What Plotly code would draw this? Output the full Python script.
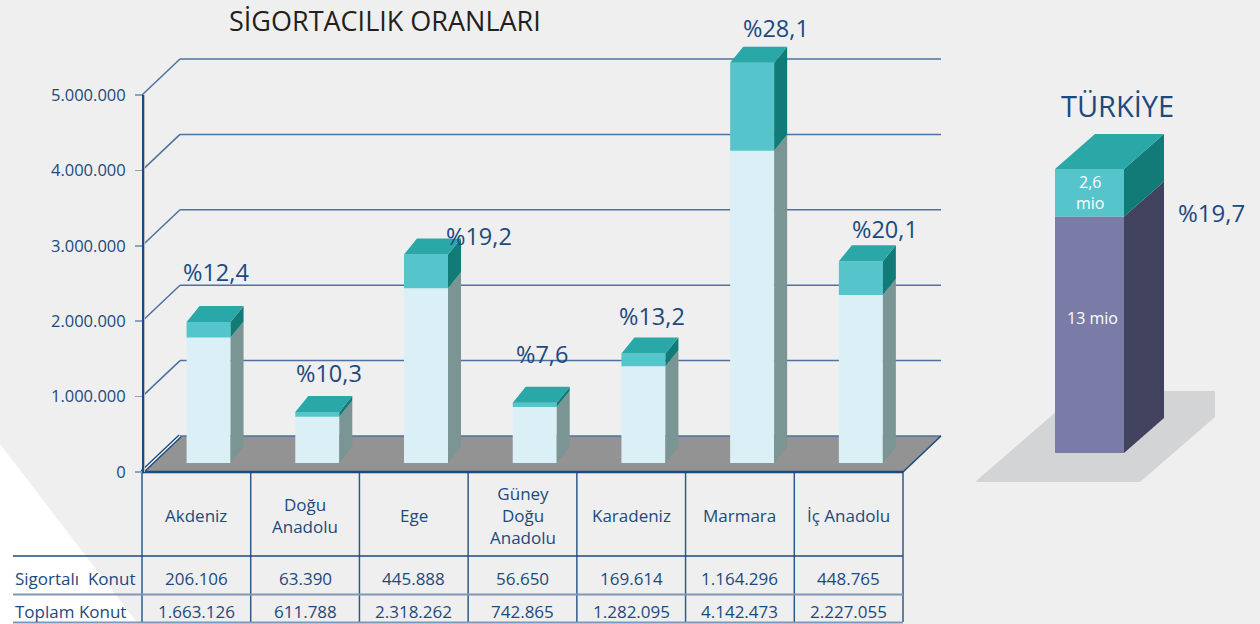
import plotly.graph_objects as go

# ---------------- data ----------------
regions = ["Akdeniz", "Doğu<br>Anadolu", "Ege", "Güney<br>Doğu<br>Anadolu",
           "Karadeniz", "Marmara", "İç Anadolu"]
sigortali_konut = [206106, 63390, 445888, 56650, 169614, 1164296, 448765]
toplam_konut = [1663126, 611788, 2318262, 742865, 1282095, 4142473, 2227055]
oran_labels = ["%12,4", "%10,3", "%19,2", "%7,6", "%13,2", "%28,1", "%20,1"]
row_labels = ["Sigortalı  Konut", "Toplam Konut"]
y_tick_values = [0, 1000000, 2000000, 3000000, 4000000, 5000000]
turkiye_toplam = 13000000
turkiye_sigortali = 2600000
turkiye_labels = ["13 mio", "2,6<br>mio"]
turkiye_oran = "%19,7"
title_text = "SİGORTACILIK ORANLARI"
turkiye_title = "TÜRKİYE"

# ---------------- style / geometry ----------------
W, H = 1260, 624
FONT = "Open Sans"
BG = "#efefef"
BLUE = "#1c4a7e"
GRID = "#4d72a0"
TICKC = "#8aa2c2"
FLOOR = "#939393"
FRONT_LIGHT = "#daf0f6"
SIDE_LIGHT = "#7b9594"
TEAL_FRONT = "#55c4cb"
TEAL_TOP = "#2aa7a7"
TEAL_SIDE = "#127a77"
PURPLE = "#7a7ba6"
PURPLE_SIDE = "#41425e"
SHADOW = "#d3d4d6"
TABLE_LINE = "#2f5b8c"
TABLE_LINE2 = "#7d97b8"

N = len(regions)
FX0, FX1 = 142, 903          # front plane left/right (px)
FY0, FY5 = 472, 95           # front plane pixel of 0 and of last tick
KX = (FX1 - FX0) / N
KY = (FY0 - FY5) / y_tick_values[-1]


def ux(px):
    return (px - FX0) / KX - 0.5


def vy(py):
    return (FY0 - py) / KY


def pp(py):
    return 1 - py / H


DX, DY = 38 / KX, 36 / KY    # floor depth
BT = 0.25                    # bars depth fraction on the floor
BC = 0.025                   # bar centre offset within column
BW = 44 / KX                 # bar front width
SDX, SDY = 13 / KX, 16 / KY  # bar side depth

# percentage label offsets (px) relative to bar front top centre
LBL_DX = [7, 12, 53, 7, 9, 24, 24]
LBL_DY = [50, 39, 19, 49, 38, 35, 32]

fig = go.Figure()
shapes = []


def poly(xl, yl, color, xa="x", ya="y"):
    fig.add_trace(go.Scatter(x=xl, y=yl, fill="toself", fillcolor=color, mode="lines",
                             line=dict(width=0), hoverinfo="skip", showlegend=False,
                             xaxis=xa, yaxis=ya))


def seg(x0, y0, x1, y1, color, width, xref="x", yref="y"):
    shapes.append(dict(type="line", xref=xref, yref=yref, x0=x0, y0=y0, x1=x1, y1=y1,
                       layer="below", line=dict(color=color, width=width)))


xl0, xl1 = -0.5, N - 0.5

# white wedge background
shapes.append(dict(type="path", xref="paper", yref="paper", layer="below",
                   path=f"M 0,{pp(444)} L {138 / W},0 L 0,0 Z",
                   fillcolor="#ffffff", line=dict(width=0)))

# floor
shapes.append(dict(type="path", xref="x", yref="y", layer="below",
                   path=f"M {xl0},0 L {xl1},0 L {xl1 + DX},{DY} L {xl0 + DX},{DY} Z",
                   fillcolor=FLOOR, line=dict(width=0)))

# back wall grid + left wall diagonals
for v in y_tick_values:
    seg(xl0 + DX, v + DY, xl1 + DX, v + DY, GRID, 1.5)
    if v > 0:
        seg(xl0, v, xl0 + DX, v + DY, GRID, 1.5)
# left floor edge: double line
seg(xl0, 0, xl0 + DX, DY, BLUE, 4)
seg(xl0, 0, xl0 + DX, DY, "#ffffff", 1.2)
# right floor edge, front floor edge
seg(xl1, 0, xl1 + DX, DY, BLUE, 1.5)
seg(xl0, 0, xl1, 0, BLUE, 2.5)
# light wall edge
seg(ux(144.5), 0, ux(144.5), y_tick_values[-1], "#b9b9b9", 1)

# bars
xc = [i + BC + BT * DX for i in range(N)]
b0 = BT * DY
tops_light = [b0 + t for t in toplam_konut]
tops = [b0 + t + s for t, s in zip(toplam_konut, sigortali_konut)]
fig.add_trace(go.Bar(x=xc, y=toplam_konut, base=b0, width=BW,
                     marker=dict(color=FRONT_LIGHT, line=dict(width=0)),
                     hoverinfo="skip", showlegend=False))
fig.add_trace(go.Bar(x=xc, y=sigortali_konut, base=tops_light, width=BW,
                     marker=dict(color=TEAL_FRONT, line=dict(width=0)),
                     hoverinfo="skip", showlegend=False))

sx1, sy1, sx2, sy2, tx, ty = [], [], [], [], [], []
for i in range(N):
    x0 = xc[i] - BW / 2
    x1 = xc[i] + BW / 2
    sx1 += [x1, x1 + SDX, x1 + SDX, x1, x1, None]
    sy1 += [b0, b0 + SDY, tops_light[i] + SDY, tops_light[i], b0, None]
    sx2 += [x1, x1 + SDX, x1 + SDX, x1, x1, None]
    sy2 += [tops_light[i], tops_light[i] + SDY, tops[i] + SDY, tops[i], tops_light[i], None]
    tx += [x0, x0 + SDX, x1 + SDX, x1, x0, None]
    ty += [tops[i], tops[i] + SDY, tops[i] + SDY, tops[i], tops[i], None]
poly(sx1, sy1, SIDE_LIGHT)
poly(sx2, sy2, TEAL_SIDE)
poly(tx, ty, TEAL_TOP)

annotations = []
for i in range(N):
    annotations.append(dict(x=xc[i], y=tops[i], xref="x", yref="y", text=oran_labels[i],
                            showarrow=False, xshift=LBL_DX[i], yshift=LBL_DY[i],
                            font=dict(family=FONT, size=23.5, color=BLUE),
                            xanchor="center", yanchor="middle"))

# front value axis (y2)
fig.add_trace(go.Scatter(x=[0], y=[0], yaxis="y2", mode="markers", marker=dict(opacity=0),
                         hoverinfo="skip", showlegend=False))

# ---------------- table ----------------
for k in range(N + 1):
    seg(xl0 + k, pp(FY0), xl0 + k, pp(622), TABLE_LINE, 1.5, "x", "paper")
TX_LEFT = 13 / W
TX_RIGHT = FX1 / W
for py, col, wd in [(556, BLUE, 1.5), (594.5, TABLE_LINE2, 2), (622.5, TABLE_LINE2, 2)]:
    seg(TX_LEFT, pp(py), TX_RIGHT, pp(py), col, wd, "paper", "paper")

HEADER_Y = 515
ROW_Y = [578, 611]
rows = [sigortali_konut, toplam_konut]
TSIZE = 17
for i in range(N):
    annotations.append(dict(x=i, y=pp(HEADER_Y), xref="x", yref="paper", text=regions[i],
                            showarrow=False, font=dict(family=FONT, size=TSIZE, color=BLUE),
                            xanchor="center", yanchor="middle"))
    for r in range(2):
        annotations.append(dict(x=i, y=pp(ROW_Y[r]), xref="x", yref="paper",
                                text=f"{rows[r][i]:,}".replace(",", "."),
                                showarrow=False, font=dict(family=FONT, size=TSIZE, color=BLUE),
                                xanchor="center", yanchor="middle"))
for r in range(2):
    annotations.append(dict(x=TX_LEFT, y=pp(ROW_Y[r]), xref="paper", yref="paper",
                            text=row_labels[r], showarrow=False,
                            font=dict(family=FONT, size=TSIZE, color=BLUE),
                            xanchor="left", yanchor="middle"))

# title
annotations.append(dict(x=385 / W, y=pp(20), xref="paper", yref="paper", text=title_text,
                        showarrow=False, font=dict(family=FONT, size=27, color="#231f20"),
                        xanchor="center", yanchor="middle"))

# ---------------- Türkiye bar (x3/y3) ----------------
TX0, TKX = 1089.5, 100.0     # px of bar centre, px per unit
TY0, TKY = 453, 18.2 / 1e6   # px of base, px per value
TBW = 69 / TKX
TDX, TDY = 40 / TKX, 35 / TKY


def tux(px):
    return (px - TX0) / TKX


def tvy(py):
    return (TY0 - py) / TKY


# shadow (decorative floor under the bar)
sh = [(975, 482), (1140, 482), (1215, 417), (1215, 391), (1080, 391)]
shapes.append(dict(type="path", xref="x3", yref="y3", layer="below",
                   path="M " + " L ".join(f"{tux(a)},{tvy(b)}" for a, b in sh) + " Z",
                   fillcolor=SHADOW, line=dict(width=0)))

t_mid = turkiye_toplam
t_top = turkiye_toplam + turkiye_sigortali
fig.add_trace(go.Bar(x=[0], y=[turkiye_toplam], base=0, width=TBW, xaxis="x3", yaxis="y3",
                     marker=dict(color=PURPLE, line=dict(width=0)), hoverinfo="skip",
                     showlegend=False))
fig.add_trace(go.Bar(x=[0], y=[turkiye_sigortali], base=t_mid, width=TBW, xaxis="x3", yaxis="y3",
                     marker=dict(color=TEAL_FRONT, line=dict(width=0)), hoverinfo="skip",
                     showlegend=False))
tx0, tx1 = -TBW / 2, TBW / 2
poly([tx1, tx1 + TDX, tx1 + TDX, tx1, tx1], [0, TDY, t_mid + TDY, t_mid, 0], PURPLE_SIDE, "x3", "y3")
poly([tx1, tx1 + TDX, tx1 + TDX, tx1, tx1], [t_mid, t_mid + TDY, t_top + TDY, t_top, t_mid],
     TEAL_SIDE, "x3", "y3")
poly([tx0, tx0 + TDX, tx1 + TDX, tx1, tx0], [t_top, t_top + TDY, t_top + TDY, t_top, t_top],
     TEAL_TOP, "x3", "y3")

annotations.append(dict(x=0, y=turkiye_toplam / 2, xref="x3", yref="y3", text=turkiye_labels[0],
                        showarrow=False, xshift=3, yshift=17,
                        font=dict(family=FONT, size=16, color="#ffffff"),
                        xanchor="center", yanchor="middle"))
annotations.append(dict(x=0, y=t_mid + turkiye_sigortali / 2, xref="x3", yref="y3",
                        text=turkiye_labels[1], showarrow=False,
                        font=dict(family=FONT, size=16, color="#ffffff"),
                        xanchor="center", yanchor="middle"))
annotations.append(dict(x=1117 / W, y=pp(105), xref="paper", yref="paper", text=turkiye_title,
                        showarrow=False, font=dict(family=FONT, size=29, color=BLUE),
                        xanchor="center", yanchor="middle"))
annotations.append(dict(x=1211 / W, y=pp(212), xref="paper", yref="paper", text=turkiye_oran,
                        showarrow=False, font=dict(family=FONT, size=24, color=BLUE),
                        xanchor="center", yanchor="middle"))

hidden = dict(visible=False, showgrid=False, zeroline=False, fixedrange=True, automargin=False)
fig.update_layout(
    template="none",
    width=W, height=H, autosize=False,
    margin=dict(l=0, r=0, t=0, b=0, pad=0, autoexpand=False),
    paper_bgcolor=BG, plot_bgcolor="rgba(0,0,0,0)",
    font=dict(family=FONT),
    separators=",.",
    barmode="overlay",
    showlegend=False,
    xaxis=dict(domain=[0, 1], range=[ux(0), ux(W)], **hidden),
    yaxis=dict(domain=[0, 1], range=[vy(H), vy(0)], **hidden),
    yaxis2=dict(domain=[pp(FY0), pp(FY5)], range=[0, y_tick_values[-1]], anchor="free",
                position=FX0 / W, side="left", showline=True, linecolor=BLUE, linewidth=1.5,
                ticks="outside", ticklen=7, tickwidth=1.5, tickcolor=TICKC,
                tickvals=y_tick_values, tickformat=",d", ticklabelstandoff=6,
                tickfont=dict(family=FONT, size=16.5, color=BLUE), automargin=False,
                showgrid=False, zeroline=False, fixedrange=True),
    xaxis3=dict(domain=[0, 1], range=[tux(0), tux(W)], anchor="y3", **hidden),
    yaxis3=dict(domain=[0, 1], range=[tvy(H), tvy(0)], anchor="x3", **hidden),
    shapes=shapes,
    annotations=annotations,
)

fig.write_html("out.html", config={"displayModeBar": False, "staticPlot": True},
               post_script="document.body.style.margin='0';document.body.style.overflow='hidden';")
